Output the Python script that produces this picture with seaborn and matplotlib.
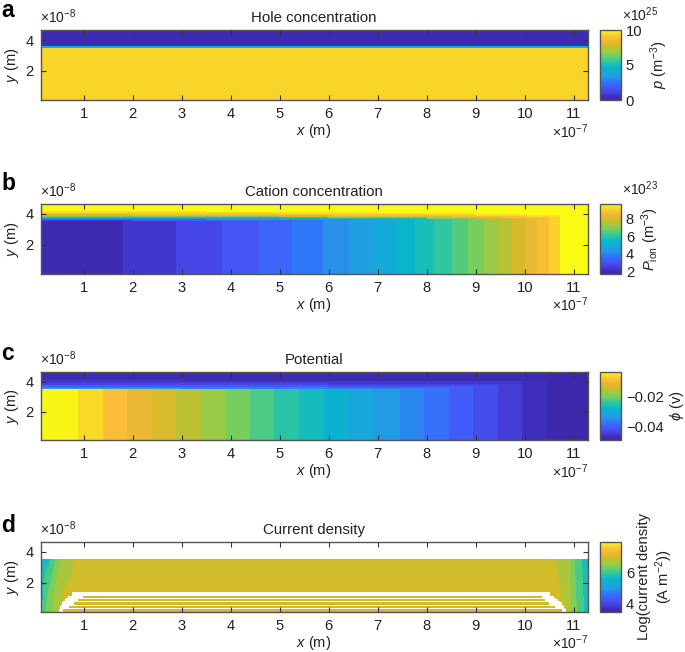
import numpy as np
import pandas as pd
import seaborn as sns
import matplotlib.pyplot as plt
from matplotlib.colors import LinearSegmentedColormap

sns.set_style("white")
plt.rcParams['font.family'] = ['Liberation Sans', 'DejaVu Sans']
plt.rcParams['mathtext.fontset'] = 'custom'
plt.rcParams['mathtext.rm'] = 'Liberation Sans'
plt.rcParams['mathtext.it'] = 'Liberation Sans:italic'
plt.rcParams['mathtext.default'] = 'regular'
plt.rcParams['axes.axisbelow'] = False

# parula style colours
parula_pos = [0, 0.05, 0.1, 0.15, 0.2, 0.26, 0.32, 0.38, 0.46, 0.55, 0.63, 0.7, 0.77, 0.85, 0.9, 0.95, 1]
parula_hex = ['#3c26a6', '#3f30c0', '#4440e0', '#4650f0', '#4060fa', '#3078fb', '#2695e6', '#1aa5dc',
              '#06b7cb', '#2fc6a2', '#6ecf62', '#a0ca42', '#cfbb28', '#eeb836', '#ffc038', '#f6de22', '#f9fb15']
parula = LinearSegmentedColormap.from_list('parula', list(zip(parula_pos, parula_hex)))

x_ticks = [1, 2, 3, 4, 5, 6, 7, 8, 9, 10, 11]
y_ticks = [2, 4]
x_range = [0.122, 11.29]
y_range = [0.1, 4.65]

# a: hole concentration, layers from the bottom up
a_tops = [3.5, 3.6]
a_values = [9.3, 4.6, 0.25]

# b: cation concentration, one value per contour band
b_edges = [1.81, 2.89, 3.83, 4.58, 5.26, 5.89, 6.42, 6.91, 7.38, 7.77, 8.15, 8.52, 8.85, 9.17, 9.46,
           9.72, 10.0, 10.26, 10.5, 10.72]
b_values = [1.93, 2.31, 2.69, 3.07, 3.45, 3.82, 4.2, 4.58, 4.96, 5.34, 5.72, 6.1, 6.48, 6.85, 7.23,
            7.61, 7.99, 8.37, 8.75, 9.13, 9.7]
b_layer_tops = [0.08, 0.16, 0.24, 0.32, 0.38, 0.46, 0.56, 0.68]
b_layer_values = [2.4, 3.2, 4.4, 5.6, 6.8, 8.1, 8.8, 9.3, 9.7]
b_front_edges = [2.0, 3.5, 5.0, 6.0, 7.0, 8.0, 8.5, 9.0, 9.5, 10.0]
b_front_y = [3.5, 3.48, 3.46, 3.44, 3.42, 3.4, 3.37, 3.34, 3.31, 3.28, 3.24]

# c: potential
c_edges = [0.9, 1.4, 1.9, 2.4, 2.9, 3.4, 3.9, 4.4, 4.9, 5.4, 5.9, 6.4, 6.9, 7.45, 7.95, 8.45, 8.95,
           9.45, 9.95, 10.45]
c_values = [-0.0045, -0.0067, -0.009, -0.0113, -0.0135, -0.0158, -0.0181, -0.0203, -0.0226, -0.0249,
            -0.0271, -0.0294, -0.0317, -0.0339, -0.0362, -0.0385, -0.0407, -0.043, -0.0453, -0.0475,
            -0.0488]
c_layer_tops = [0.08, 0.16, 0.28, 0.42, 0.6]
c_layer_values = [-0.032, -0.037, -0.041, -0.044, -0.046, -0.048]
c_front_edges = [3.0, 6.0, 9.0]
c_front_y = [3.5, 3.48, 3.46, 3.44]

# d: current density, contour edges per row near the two ends
d_row_tops = [0.35, 0.6, 0.85, 1.1, 1.35, 1.6, 1.85, 2.1, 2.35, 2.6, 2.85, 3.1, 3.35, 3.55]
d_left_1 = [.12, .12, .12, .12, .12, .12, .12, .12, .12, .12, .125, .14, .17, .21]
d_left_2 = [.17, .17, .17, .18, .18, .19, .19, .2, .21, .23, .25, .27, .3, .32]
d_left_3 = [.25, .25, .26, .27, .28, .29, .31, .33, .35, .37, .39, .4, .41, .42]
d_left_4 = [.38, .38, .39, .39, .4, .42, .43, .45, .47, .49, .5, .51, .52, .52]
d_left_5 = [.6, .6, .6, .6, .55, .6, .66, .7, .74, .77, .79, .8, .79, .78]
d_right_1 = [10.85, 10.84, 10.81, 10.79, 10.77, 10.75, 10.73, 10.71, 10.69, 10.67, 10.66, 10.65, 10.64, 10.64]
d_right_2 = [10.95, 10.95, 10.95, 10.95, 10.94, 10.94, 10.94, 10.93, 10.93, 10.93, 10.93, 10.93, 10.93, 10.93]
d_right_3 = [11.06, 11.06, 11.06, 11.05, 11.05, 11.05, 11.04, 11.04, 11.04, 11.03, 11.03, 11.03, 11.03, 11.03]
d_right_4 = [11.2, 11.2, 11.2, 11.2, 11.19, 11.19, 11.19, 11.19, 11.18, 11.18, 11.18, 11.17, 11.17, 11.17]
d_right_5 = [11.29, 11.29, 11.29, 11.29, 11.29, 11.29, 11.29, 11.29, 11.29, 11.29, 11.28, 11.27, 11.26, 11.26]
d_left_values = [5.2, 5.73, 6.1, 6.4, 6.7, 6.96]
d_right_values = [6.96, 6.7, 6.4, 6.1, 5.73, 5.2]
d_top = 3.55
# white hole under the contact, stripes of olive inside it
hole_bottom = [.1, .3, .36, .49, .55, .72, .78, .92, .98, 1.11]
hole_top = [.3, .36, .49, .55, .72, .78, .92, .98, 1.11, 1.37]
hole_left = [.51, .52, .53, .55, .57, .6, .63, .66, .7, .78]
hole_right = [10.84, 10.82, 10.8, 10.78, 10.75, 10.72, 10.68, 10.63, 10.6, 10.52]
stripe_left = [.6, 0, .72, 0, .82, 0, .9, 0, 1.0, 0]
stripe_right = [10.75, 0, 10.62, 0, 10.5, 0, 10.42, 0, 10.36, 0]

W, H = 685, 652
nx, ny = 548, 140
xs = x_range[0] + (np.arange(nx) + 0.5) * (x_range[1] - x_range[0]) / nx
ys = y_range[0] + (np.arange(ny) + 0.5) * (y_range[1] - y_range[0]) / ny


def banded(edges, values, tops, layer_values, front_edges, front_y, combine):
    bands = np.array(values)[np.searchsorted(edges, xs)]
    fronts = np.array(front_y)[np.searchsorted(front_edges, xs)]
    field = np.zeros((ny, nx))
    for i, y in enumerate(ys):
        lay = np.array(layer_values)[np.searchsorted(tops, y - fronts)]
        field[i] = np.where(y < fronts, bands, combine(bands, lay))
    return field


def field_a():
    col = np.array(a_values)[np.searchsorted(a_tops, ys)]
    return np.tile(col[:, None], (1, nx))


def field_d():
    field = np.full((ny, nx), d_left_values[-1], dtype=float)
    lefts = np.array([d_left_1, d_left_2, d_left_3, d_left_4, d_left_5])
    rights = np.array([d_right_1, d_right_2, d_right_3, d_right_4, d_right_5])
    for i, y in enumerate(ys):
        if y > d_top:
            field[i] = np.nan
            continue
        r = min(np.searchsorted(d_row_tops, y), len(d_row_tops) - 1)
        left_part = np.array(d_left_values)[np.searchsorted(lefts[:, r], xs)]
        right_part = np.array(d_right_values)[np.searchsorted(rights[:, r], xs)]
        field[i] = np.where(xs < 5, left_part, right_part)
        for j in range(len(hole_bottom)):
            if hole_bottom[j] <= y < hole_top[j]:
                white = (xs > hole_left[j]) & (xs < hole_right[j])
                white &= ~((xs > stripe_left[j]) & (xs < stripe_right[j]))
                field[i][white] = np.nan
    return field


def draw_text(px, py, s, **kw):
    fig.text(px / W, 1 - py / H, s, color='#222222', **kw)


panels = [
    dict(letter='a', base=17, top=30, bottom=100, title='Hole concentration', field=field_a(),
         vmin=0, vmax=10, ticks=[0, 5, 10], labels=['0', '5', '10'], factor='×10$^{25}$',
         cb_label='$\\mathit{p}$ (m$^{-3}$)', cb_x=659),
    dict(letter='b', base=190, top=204, bottom=273.7, title='Cation concentration',
         field=banded(b_edges, b_values, b_layer_tops, b_layer_values, b_front_edges, b_front_y, np.maximum),
         vmin=1.74, vmax=9.7, ticks=[2, 4, 6, 8], labels=['2', '4', '6', '8'], factor='×10$^{23}$',
         cb_label='$\\mathit{P}_{ion}$ (m$^{-3}$)', cb_x=650),
    dict(letter='c', base=360, top=372, bottom=440, title='Potential',
         field=banded(c_edges, c_values, c_layer_tops, c_layer_values, c_front_edges, c_front_y, np.minimum),
         vmin=-0.0493, vmax=-0.004, ticks=[-0.04, -0.02], labels=['−0.04', '−0.02'], factor=None,
         cb_label='$\\mathit{\\phi}$ (v)', cb_x=677),
    dict(letter='d', base=532, top=542, bottom=611.7, title='Current density', field=field_d(),
         vmin=3.48, vmax=7.98, ticks=[4, 6], labels=['4', '6'], factor=None,
         cb_label='Log(current density\n(A m$^{-2}$))', cb_x=656),
]

fig = plt.figure(figsize=(W / 100, H / 100), dpi=100)
edge = '#555555'

for p in panels:
    ax = fig.add_axes([40.5 / W, 1 - p['bottom'] / H, 547.5 / W, (p['bottom'] - p['top']) / H])
    cax = fig.add_axes([600 / W, 1 - p['bottom'] / H, 21 / W, (p['bottom'] - p['top']) / H])
    sns.heatmap(pd.DataFrame(p['field']), ax=ax, cbar_ax=cax, cmap=parula, vmin=p['vmin'], vmax=p['vmax'],
                xticklabels=False, yticklabels=False)
    ax.invert_yaxis()
    ax.set_xticks([(x - x_range[0]) / (x_range[1] - x_range[0]) * nx for x in x_ticks])
    ax.set_xticklabels([str(x) for x in x_ticks], rotation=0)
    ax.set_yticks([(y - y_range[0]) / (y_range[1] - y_range[0]) * ny for y in y_ticks])
    ax.set_yticklabels([str(y) for y in y_ticks], rotation=0)
    ax.tick_params(direction='in', length=3.5, width=0.8, color='#333333', labelcolor='#222222',
                   labelsize=10.6, top=True, right=True, bottom=True, left=True, pad=5)
    for s in ax.spines.values():
        s.set_visible(True)
        s.set_color(edge)
        s.set_linewidth(1.0)

    cax.set_yticks(p['ticks'])
    cax.set_yticklabels(p['labels'])
    cax.tick_params(length=0, labelsize=10.6, labelcolor='#222222', pad=3.5)
    cb = ax.collections[0].colorbar
    cb.outline.set_visible(True)
    cb.outline.set_edgecolor(edge)
    cb.outline.set_linewidth(1.0)

    mid = (p['top'] + p['bottom']) / 2
    draw_text(314, p['top'] - 12, p['title'], ha='center', va='center', fontsize=10.8)
    fig.text(1 / W, 1 - p['base'] / H, p['letter'], ha='left', va='baseline', fontsize=16.5,
             fontweight='bold', color='black')
    draw_text(40, p['top'] - 13, '×10$^{-8}$', ha='left', va='center', fontsize=10)
    draw_text(588, p['bottom'] + 31.5, '×10$^{-7}$', ha='right', va='center', fontsize=10)
    draw_text(314, p['bottom'] + 31.5, '$\\mathit{x}$ (m)', ha='center', va='center', fontsize=10.6)
    draw_text(12, mid, '$\\mathit{y}$ (m)', ha='center', va='center', fontsize=10.6, rotation=90)
    if p['factor']:
        draw_text(622, p['top'] - 15, p['factor'], ha='left', va='center', fontsize=10)
    draw_text(p['cb_x'], mid, p['cb_label'], ha='center', va='center', fontsize=10.6, rotation=90,
              multialignment='center')

fig.savefig('out.png', dpi=100)
